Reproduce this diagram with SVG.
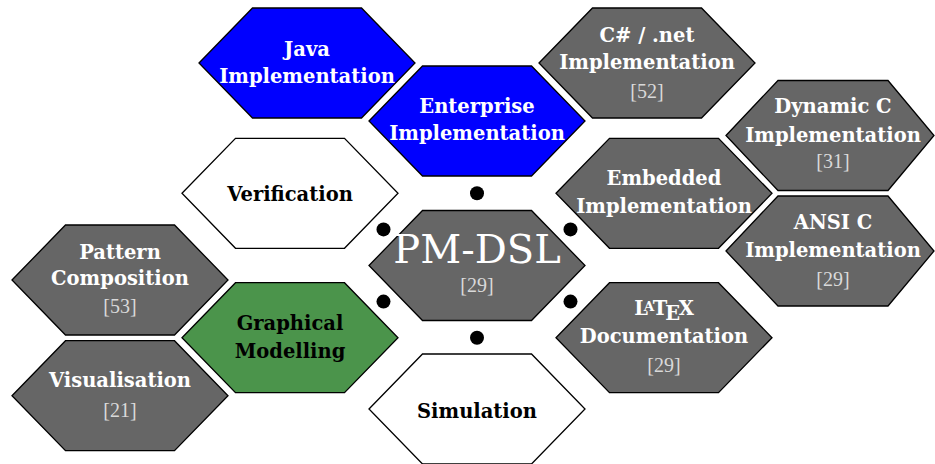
<svg xmlns="http://www.w3.org/2000/svg" xmlns:xlink="http://www.w3.org/1999/xlink" width="935" height="464" viewBox="0 0 935 464">
  <style>
    .hex { stroke: #000; stroke-width: 1.3; stroke-linejoin: miter; }
    .gray { fill: #666666; }
    .blue { fill: #0000ff; }
    .white { fill: #ffffff; }
    .green { fill: #4b944b; }
    .lbl { font-family: "DejaVu Serif", "Liberation Serif", serif; font-weight: bold; font-size: 19.5px; text-anchor: middle; }
    .lt { fill: #ffffff; }
    .dk { fill: #000000; }
    .ref { font-family: "Liberation Serif", "DejaVu Serif", serif; font-size: 20px; text-anchor: middle; fill: #d9d9d9; }
    .big { font-family: "DejaVu Serif", "Liberation Serif", serif; font-size: 40px; text-anchor: middle; fill: #ffffff; }
    .dot { fill: #000; }
  </style>
  <defs>
    <!-- regular hexagon centred on the origin -->
    <polygon id="hex" points="-108,0 -54.5,-55 54.5,-55 108,0 54.5,55 -54.5,55"/>
    <!-- variant whose right tip is cut short by the page edge -->
    <polygon id="hexR" points="-107,0 -55,-55 55,-55 101,0 55,55 -55,55"/>
  </defs>

  <rect width="935" height="464" fill="#ffffff"/>

  <g id="java">
    <use xlink:href="#hex" x="307" y="63" class="hex blue"/>
    <text class="lbl lt" x="307" y="56">Java</text>
    <text class="lbl lt" x="307" y="83">Implementation</text>
  </g>

  <g id="enterprise">
    <use xlink:href="#hex" x="477" y="121" class="hex blue"/>
    <text class="lbl lt" x="477" y="113">Enterprise</text>
    <text class="lbl lt" x="477" y="140">Implementation</text>
  </g>

  <g id="csharp">
    <use xlink:href="#hex" x="647" y="63" class="hex gray"/>
    <text class="lbl lt" x="647" y="42">C# / .net</text>
    <text class="lbl lt" x="647" y="69">Implementation</text>
    <text class="ref" x="647" y="98">[52]</text>
  </g>

  <g id="dynamic-c">
    <use xlink:href="#hexR" x="833" y="135.5" class="hex gray"/>
    <text class="lbl lt" x="833" y="113">Dynamic C</text>
    <text class="lbl lt" x="833" y="141.5">Implementation</text>
    <text class="ref" x="833" y="168">[31]</text>
  </g>

  <g id="ansi-c">
    <use xlink:href="#hexR" x="833" y="251" class="hex gray"/>
    <text class="lbl lt" x="833" y="229">ANSI C</text>
    <text class="lbl lt" x="833" y="256.5">Implementation</text>
    <text class="ref" x="833" y="286">[29]</text>
  </g>

  <g id="embedded">
    <use xlink:href="#hex" x="664" y="193.3" class="hex gray"/>
    <text class="lbl lt" x="664" y="185">Embedded</text>
    <text class="lbl lt" x="664" y="212.5">Implementation</text>
  </g>

  <g id="latex-doc">
    <use xlink:href="#hex" x="664" y="337.7" class="hex gray"/>
    <text class="lbl lt" x="664" y="315">L<tspan dx="-4" dy="-4.5" font-size="13.5">A</tspan><tspan dx="-1.5" dy="4.5">T</tspan><tspan dx="-2" dy="4.5">E</tspan><tspan dx="-1.5" dy="-4.5">X</tspan></text>
    <text class="lbl lt" x="664" y="343">Documentation</text>
    <text class="ref" x="664" y="372">[29]</text>
  </g>

  <g id="pm-dsl">
    <use xlink:href="#hex" x="477" y="265.5" class="hex gray"/>
    <text class="big" x="477" y="263">PM-DSL</text>
    <text class="ref" x="477" y="292">[29]</text>
  </g>

  <g id="verification">
    <use xlink:href="#hex" x="290" y="193.3" class="hex white"/>
    <text class="lbl dk" x="290" y="200.5">Verification</text>
  </g>

  <g id="graphical-modelling">
    <use xlink:href="#hex" x="290" y="337.7" class="hex green"/>
    <text class="lbl dk" x="290" y="330">Graphical</text>
    <text class="lbl dk" x="290" y="357.5">Modelling</text>
  </g>

  <g id="pattern-composition">
    <use xlink:href="#hex" x="120" y="280" class="hex gray"/>
    <text class="lbl lt" x="120" y="258.5">Pattern</text>
    <text class="lbl lt" x="120" y="285">Composition</text>
    <text class="ref" x="120" y="313">[53]</text>
  </g>

  <g id="visualisation">
    <use xlink:href="#hex" x="120" y="395.7" class="hex gray"/>
    <text class="lbl lt" x="120" y="387">Visualisation</text>
    <text class="ref" x="120" y="417">[21]</text>
  </g>

  <g id="simulation">
    <use xlink:href="#hex" x="477" y="409" class="hex white"/>
    <text class="lbl dk" x="477" y="418">Simulation</text>
  </g>

  <!-- link markers between the core and its six neighbours -->
  <g id="connectors">
    <circle class="dot" cx="477" cy="193.3" r="7"/>
    <circle class="dot" cx="477" cy="337.7" r="7"/>
    <circle class="dot" cx="383.5" cy="229.4" r="7"/>
    <circle class="dot" cx="570.5" cy="229.4" r="7"/>
    <circle class="dot" cx="383.5" cy="301.6" r="7"/>
    <circle class="dot" cx="570.5" cy="301.6" r="7"/>
  </g>
</svg>
